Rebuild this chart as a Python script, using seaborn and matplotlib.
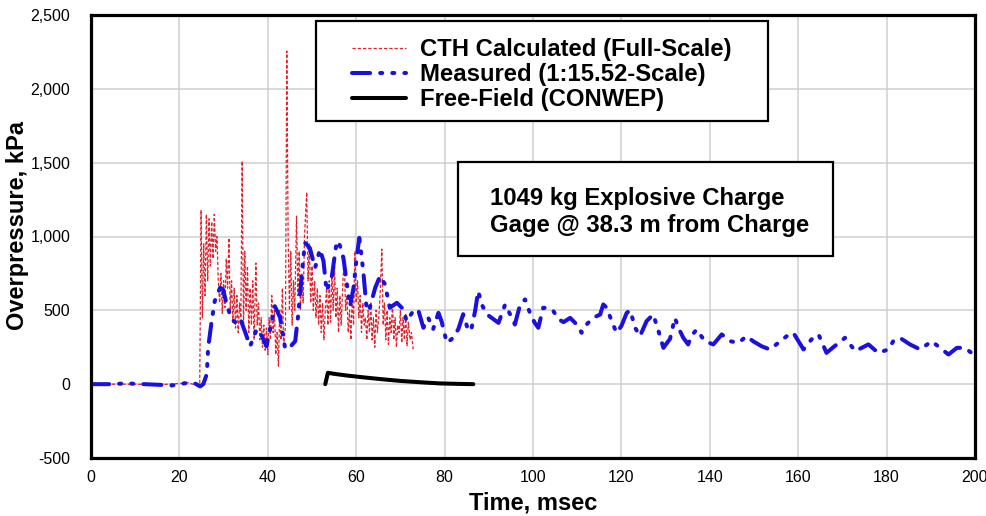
import matplotlib
matplotlib.use("Agg")
import matplotlib.pyplot as plt
import seaborn as sns
import pandas as pd
from matplotlib.patches import Rectangle
from matplotlib.ticker import FuncFormatter

# ---------------- data ----------------
cth_t = [0, 5, 10, 15, 20, 22, 23, 24, 24.6, 24.9, 25.2, 25.5, 25.8, 26.1, 26.4, 26.7, 27.0, 27.3,
         27.6, 27.9, 28.2, 28.5, 28.8, 29.1, 29.4, 29.7, 30.0, 30.3, 30.6, 30.9, 31.2, 31.5, 31.8,
         32.1, 32.4, 32.7, 33.0, 33.3, 33.6, 33.9, 34.2, 34.5, 34.8, 35.1, 35.4, 35.7, 36.0, 36.3,
         36.6, 36.9, 37.3, 37.6, 37.9, 38.2, 38.5, 38.8, 39.1, 39.4, 39.7, 40.0, 40.3, 40.6, 40.9,
         41.2, 41.5, 41.8, 42.1, 42.4, 42.7, 43.0, 43.3, 43.6, 44.0, 44.3, 44.6, 44.9, 45.2, 45.5,
         45.8, 46.1, 46.5, 46.8, 47.1, 47.4, 47.7, 48.0, 48.3, 48.8, 49.1, 49.4, 49.7, 50.0, 50.3,
         50.6, 50.9, 51.2, 51.5, 51.8, 52.1, 52.4, 52.7, 53.0, 53.3, 53.6, 53.9, 54.2, 54.5, 54.8,
         55.1, 55.4, 55.7, 56.0, 56.3, 56.6, 57.0, 57.3, 57.6, 57.9, 58.2, 58.5, 58.8, 59.1, 59.4,
         59.7, 60.0, 60.3, 60.6, 60.9, 61.2, 61.5, 61.8, 62.1, 62.4, 62.7, 63.0, 63.3, 63.6, 63.9,
         64.2, 64.5, 64.8, 65.1, 65.4, 65.8, 66.1, 66.4, 66.7, 67.0, 67.3, 67.6, 67.9, 68.2, 68.5,
         68.8, 69.1, 69.4, 69.7, 70.0, 70.3, 70.6, 70.9, 71.2, 71.5, 71.8, 72.2, 72.5, 72.9]
cth_p = [0, 0, 0, -5, 5, 10, 0, 5, 0, 1180, 450, 950, 600, 1150, 700, 1120, 800, 1100,
         850, 1150, 900, 1000, 700, 550, 750, 480, 700, 520, 850, 650, 990, 500, 700,
         420, 650, 380, 600, 350, 550, 450, 1510, 380, 900, 500, 800, 350, 650, 400,
         700, 300, 820, 400, 550, 300, 450, 250, 400, 230, 380, 200, 450, 300, 600,
         350, 500, 200, 350, 122, 500, 300, 650, 250, 400, 2256, 1000, 500, 900, 400,
         700, 500, 1138, 600, 900, 500, 750, 550, 1000, 1300, 700, 950, 550, 800, 500,
         700, 450, 650, 400, 600, 350, 550, 300, 500, 650, 400, 700, 420, 750, 500,
         800, 450, 650, 350, 600, 400, 700, 850, 500, 600, 350, 500, 300, 600, 400,
         900, 550, 700, 450, 600, 350, 550, 400, 450, 300, 500, 350, 550, 300, 450,
         250, 500, 350, 450, 600, 915, 400, 550, 300, 500, 270, 450, 350, 550, 300,
         450, 250, 400, 350, 500, 280, 450, 300, 480, 260, 420, 300, 350, 237]

meas_t = [0, 4, 8, 12, 16, 18, 20, 22, 23.5, 24.7, 25.4, 26.2, 26.5, 27.3, 28.0, 29.2, 29.9,
          30.7, 31.8, 32.6, 33.7, 34.8, 36.0, 37.5, 38.5, 39.7, 41.6, 42.8, 43.9, 44.6, 46.2,
          46.9, 47.7, 48.4, 49.5, 50.7, 51.8, 52.6, 53.3, 54.5, 55.6, 56.3, 57.1, 58.2, 58.6,
          59.4, 60.1, 60.7, 61.6, 62.4, 63.1, 64.3, 65.4, 66.5, 67.6, 69.2, 70.7, 71.4, 72.9,
          74.0, 75.2, 76.3, 77.4, 78.6, 79.3, 80.5, 81.6, 83.1, 84.2, 85.4, 86.1, 86.9, 87.6,
          88.4, 89.5, 90.6, 92.2, 93.7, 94.8, 95.9, 97.1, 98.2, 99.3, 100.4, 101.2, 102.3,
          103.5, 104.6, 105.8, 106.9, 108.4, 109.9, 111.0, 112.1, 113.6, 115.2, 115.9, 116.7,
          117.8, 118.9, 120.0, 121.2, 122.0, 123.1, 124.2, 125.7, 127.2, 128.4, 129.5, 131.0,
          132.1, 132.9, 134.0, 135.1, 135.8, 137.0, 138.9, 140.8, 142.7, 144.6, 146.5, 148.3,
          149.8, 151.7, 153.6, 155.5, 157.4, 158.9, 161.2, 163.0, 164.6, 166.4, 168.7, 170.6,
          172.9, 175.9, 178.1, 180.4, 181.5, 183.0, 185.3, 187.6, 190.2, 192.1, 194.0, 195.9,
          197.7, 199.2]
meas_p = [0, 0, 5, 0, -5, -10, 0, 10, 5, -15, 0, 68, 246, 427, 563, 653, 640,
          540, 440, 420, 449, 359, 257, 372, 336, 257, 528, 449, 246, 237, 291,
          474, 745, 957, 923, 788, 914, 833, 630, 732, 969, 940, 856, 608, 528,
          653, 856, 991, 766, 495, 520, 653, 732, 677, 517, 551, 506, 427, 495,
          506, 382, 449, 372, 483, 427, 280, 305, 372, 474, 359, 380, 495, 630,
          540, 474, 450, 415, 540, 474, 404, 540, 574, 483, 415, 382, 517,
          517, 495, 440, 420, 449, 404, 348, 404, 449, 472, 540, 517,
          427, 348, 394, 483, 500, 382, 325, 427, 472, 359, 246, 307,
          449, 382, 314, 269, 325, 370, 291, 269, 337, 291, 280, 325,
          291, 257, 235, 280, 325, 348, 235, 303, 337, 212, 269, 314,
          224, 269, 212, 235, 291, 314, 269, 235, 291, 246, 201, 246,
          246, 212]

ff_t = [53.0, 53.6, 55, 58, 62, 66, 70, 75, 79, 83, 86.5]
ff_p = [0, 77, 70, 58, 45, 33, 22, 12, 5, 2, 0]

labels = ["CTH Calculated (Full-Scale)", "Measured (1:15.52-Scale)", "Free-Field (CONWEP)"]
note_lines = ["1049 kg Explosive Charge", "Gage @ 38.3 m from Charge"]
x_ticks = list(range(0, 201, 20))
y_ticks = list(range(-500, 2501, 500))

# ---------------- figure ----------------
sns.set_theme(style="white")
plt.rcParams["font.family"] = ["Liberation Sans", "DejaVu Sans"]

W, H = 987, 516
fig = plt.figure(figsize=(W / 100, H / 100), dpi=100)
L, R, T, B = 91, 975, 15, 458
ax = fig.add_axes([L / W, 1 - B / H, (R - L) / W, (B - T) / H])

df_cth = pd.DataFrame({"t": cth_t, "p": cth_p})
df_meas = pd.DataFrame({"t": meas_t, "p": meas_p})
df_ff = pd.DataFrame({"t": ff_t, "p": ff_p})

sns.lineplot(data=df_cth, x="t", y="p", ax=ax, color="#e0202c", lw=0.9,
             estimator=None, sort=False, label=labels[0], zorder=3)
sns.lineplot(data=df_meas, x="t", y="p", ax=ax, color="#1a10e0", lw=2.9,
             estimator=None, sort=False, label=labels[1], zorder=4)
sns.lineplot(data=df_ff, x="t", y="p", ax=ax, color="black", lw=2.9,
             estimator=None, sort=False, label=labels[2], zorder=5)

lines = ax.get_lines()
lines[0].set_dashes([2.6, 1.6])
lines[1].set_dashes([4.5, 2.5, 0.5, 2.5, 0.5, 2.5])
lines[1].set_dash_capstyle("round")
lines[1].set_solid_capstyle("round")

ax.set_xlim(0, 200)
ax.set_ylim(-500, 2500)
ax.set_xticks(x_ticks)
ax.set_yticks(y_ticks)
ax.yaxis.set_major_formatter(FuncFormatter(lambda v, p: f"{int(v):,}"))
ax.grid(True, color="#cfcfcf", lw=1.1)
ax.set_axisbelow(True)
for s in ax.spines.values():
    s.set_color("black")
    s.set_linewidth(2.3)
    s.set_zorder(10)
ax.tick_params(axis="both", length=0, colors="black")
ax.tick_params(axis="x", pad=9, labelsize=11.5)
ax.tick_params(axis="y", pad=15, labelsize=11.5)


def axx(px):
    return (px - L) / (R - L)


def axy(py):
    return (B - py) / (B - T)


ax.set_xlabel("Time, msec", fontsize=17, fontweight="bold", color="black", labelpad=4)
ax.set_ylabel("Overpressure, kPa", fontsize=17, fontweight="bold", color="black")
ax.yaxis.set_label_coords(axx(29), axy(226))

# legend (frame drawn as separate rectangle)
leg = ax.legend(loc="upper left", bbox_to_anchor=(axx(352), axy(38)), frameon=False,
                prop={"size": 17.2, "weight": "bold"}, handlelength=2.25, handletextpad=0.6,
                borderpad=0, borderaxespad=0, labelspacing=0.09)
for t in leg.get_texts():
    t.set_color("black")
ax.add_patch(Rectangle((axx(316), axy(121)), axx(768) - axx(316), axy(21) - axy(121),
                       transform=ax.transAxes, fill=True, facecolor="white",
                       edgecolor="black", lw=1.6, zorder=6))
leg.set_zorder(7)

# annotation box
ax.add_patch(Rectangle((axx(458), axy(256)), axx(833) - axx(458), axy(162) - axy(256),
                       transform=ax.transAxes, facecolor="white", edgecolor="black",
                       lw=1.6, zorder=6))
ax.text(axx(490), axy(199), note_lines[0], transform=ax.transAxes, fontsize=17.2,
        fontweight="bold", va="center", ha="left", color="black", zorder=7)
ax.text(axx(490), axy(225), note_lines[1], transform=ax.transAxes, fontsize=17.2,
        fontweight="bold", va="center", ha="left", color="black", zorder=7)

fig.savefig("out.png", dpi=100, facecolor="white")
